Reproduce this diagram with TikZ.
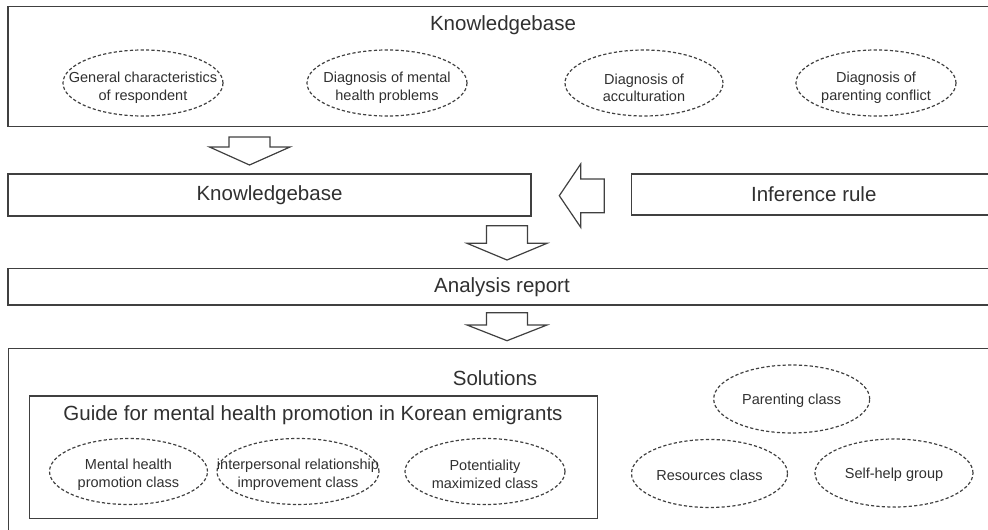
\documentclass[tikz,border=0pt]{standalone}
\usepackage{fontspec}
\setmainfont{Liberation Sans}
\usetikzlibrary{shapes.geometric}
\definecolor{ink}{HTML}{303030}
\definecolor{linec}{HTML}{404040}
\tikzset{
  box/.style={draw=linec, line width=1.3pt, rectangle, inner sep=0pt, outer sep=0pt, text=ink,
    font=\fontsize{20.5}{24}\selectfont},
  title/.style={anchor=base, text=ink, inner sep=0pt, font=\fontsize{20.5}{24}\selectfont},
  oval/.style={draw=linec, line width=1.2pt, dash pattern=on 3.2pt off 2.2pt, ellipse, inner sep=0pt,
    outer sep=0pt},
  otext/.style={text=ink, align=center, inner sep=0pt, font=\fontsize{14.5}{17.5}\selectfont},
  blockarrow/.style={draw=linec, line width=1.2pt, fill=white, line join=miter},
}
\begin{document}
\begin{tikzpicture}[x=1pt,y=-1pt]
\useasboundingbox (0,0) rectangle (988,530);
% top knowledgebase
\node[box, minimum width=988, minimum height=120] (kbtop) at (502,66.7) {};
\node[title] (kbtitle) at (503,30.7) {Knowledgebase};
\node[oval, minimum width=160, minimum height=66,
  label={[otext, yshift=-5pt]center:General characteristics\\of respondent}] (e1) at (143,83) {};
\node[oval, minimum width=160, minimum height=66,
  label={[otext, yshift=-5pt]center:Diagnosis of mental\\health problems}] (e2) at (387,83) {};
\node[oval, minimum width=158, minimum height=66,
  label={[otext, yshift=-5pt]center:Diagnosis of\\acculturation}] (e3) at (644,83) {};
\node[oval, minimum width=160, minimum height=66,
  label={[otext, yshift=-5pt]center:Diagnosis of\\parenting conflict}] (e4) at (876,83) {};
% arrow 1
\coordinate (a1) at (249.5,137);
\draw[blockarrow] ([xshift=-20.5pt]a1) -- ([xshift=20.5pt]a1) -- ++(0,10) -- ++(20,0) -- ([yshift=-28pt]a1) -- ([xshift=-40pt,yshift=-10pt]a1) -- ++(19.5,0) -- cycle;
% middle row
\node[box, minimum width=523, minimum height=42] (kbmid) at (269.5,195) {Knowledgebase};
\node[box, minimum width=364, minimum height=41] (infer) at (813.8,194.5) {Inference rule};
% left arrow
\coordinate (la) at (559.3,195.7);
\draw[blockarrow] (la) -- ++(21.4,-31.7) -- ++(0,15) -- (604.3,179) -- (604.3,212.7) -- (580.7,212.7) -- (580.7,227.3) -- cycle;
% arrow 2
\coordinate (a2) at (507,225.7);
\draw[blockarrow] ([xshift=-20.5pt]a2) -- ([xshift=20.5pt]a2) -- ++(0,17.6) -- ++(19.5,0) -- ([yshift=-34.3pt]a2) -- ([xshift=-40pt,yshift=-17.6pt]a2) -- ++(19.5,0) -- cycle;
% analysis report
\node[box, minimum width=988, minimum height=36.7] (analysis) at (502,286.7) {Analysis report};
% arrow 3
\coordinate (a3) at (507,312.7);
\draw[blockarrow] ([xshift=-20.5pt]a3) -- ([xshift=20.5pt]a3) -- ++(0,12.3) -- ++(19.5,0) -- ([yshift=-28pt]a3) -- ([xshift=-40pt,yshift=-12.3pt]a3) -- ++(19.5,0) -- cycle;
% solutions
\node[box, minimum width=990, minimum height=200] (sol) at (503.7,448.3) {};
\node[title] (soltitle) at (495,385) {Solutions};
\node[box, minimum width=568, minimum height=122.3] (guide) at (313.6,457.2) {};
\node[title] (guidetitle) at (313,420) {Guide for mental health promotion in Korean emigrants};
\node[oval, minimum width=158, minimum height=66,
  label={[otext, yshift=-3pt]center:Mental health\\promotion class}] (m1) at (128.5,471.5) {};
\node[oval, minimum width=162, minimum height=66,
  label={[otext, yshift=-3pt]center:interpersonal relationship\\improvement class}] (m2) at (298,471.5) {};
\node[oval, minimum width=160, minimum height=66,
  label={[otext, yshift=-3pt]center:Potentiality\\maximized class}] (m3) at (485,471.5) {};
\node[oval, minimum width=156, minimum height=68,
  label={[otext, yshift=-2pt]center:Parenting class}] (r1) at (791.7,399) {};
\node[oval, minimum width=156, minimum height=68,
  label={[otext, yshift=-2pt]center:Resources class}] (r2) at (709.5,473.5) {};
\node[oval, minimum width=158, minimum height=68,
  label={[otext, yshift=-2pt]center:Self-help group}] (r3) at (894,473) {};
\end{tikzpicture}
\end{document}
